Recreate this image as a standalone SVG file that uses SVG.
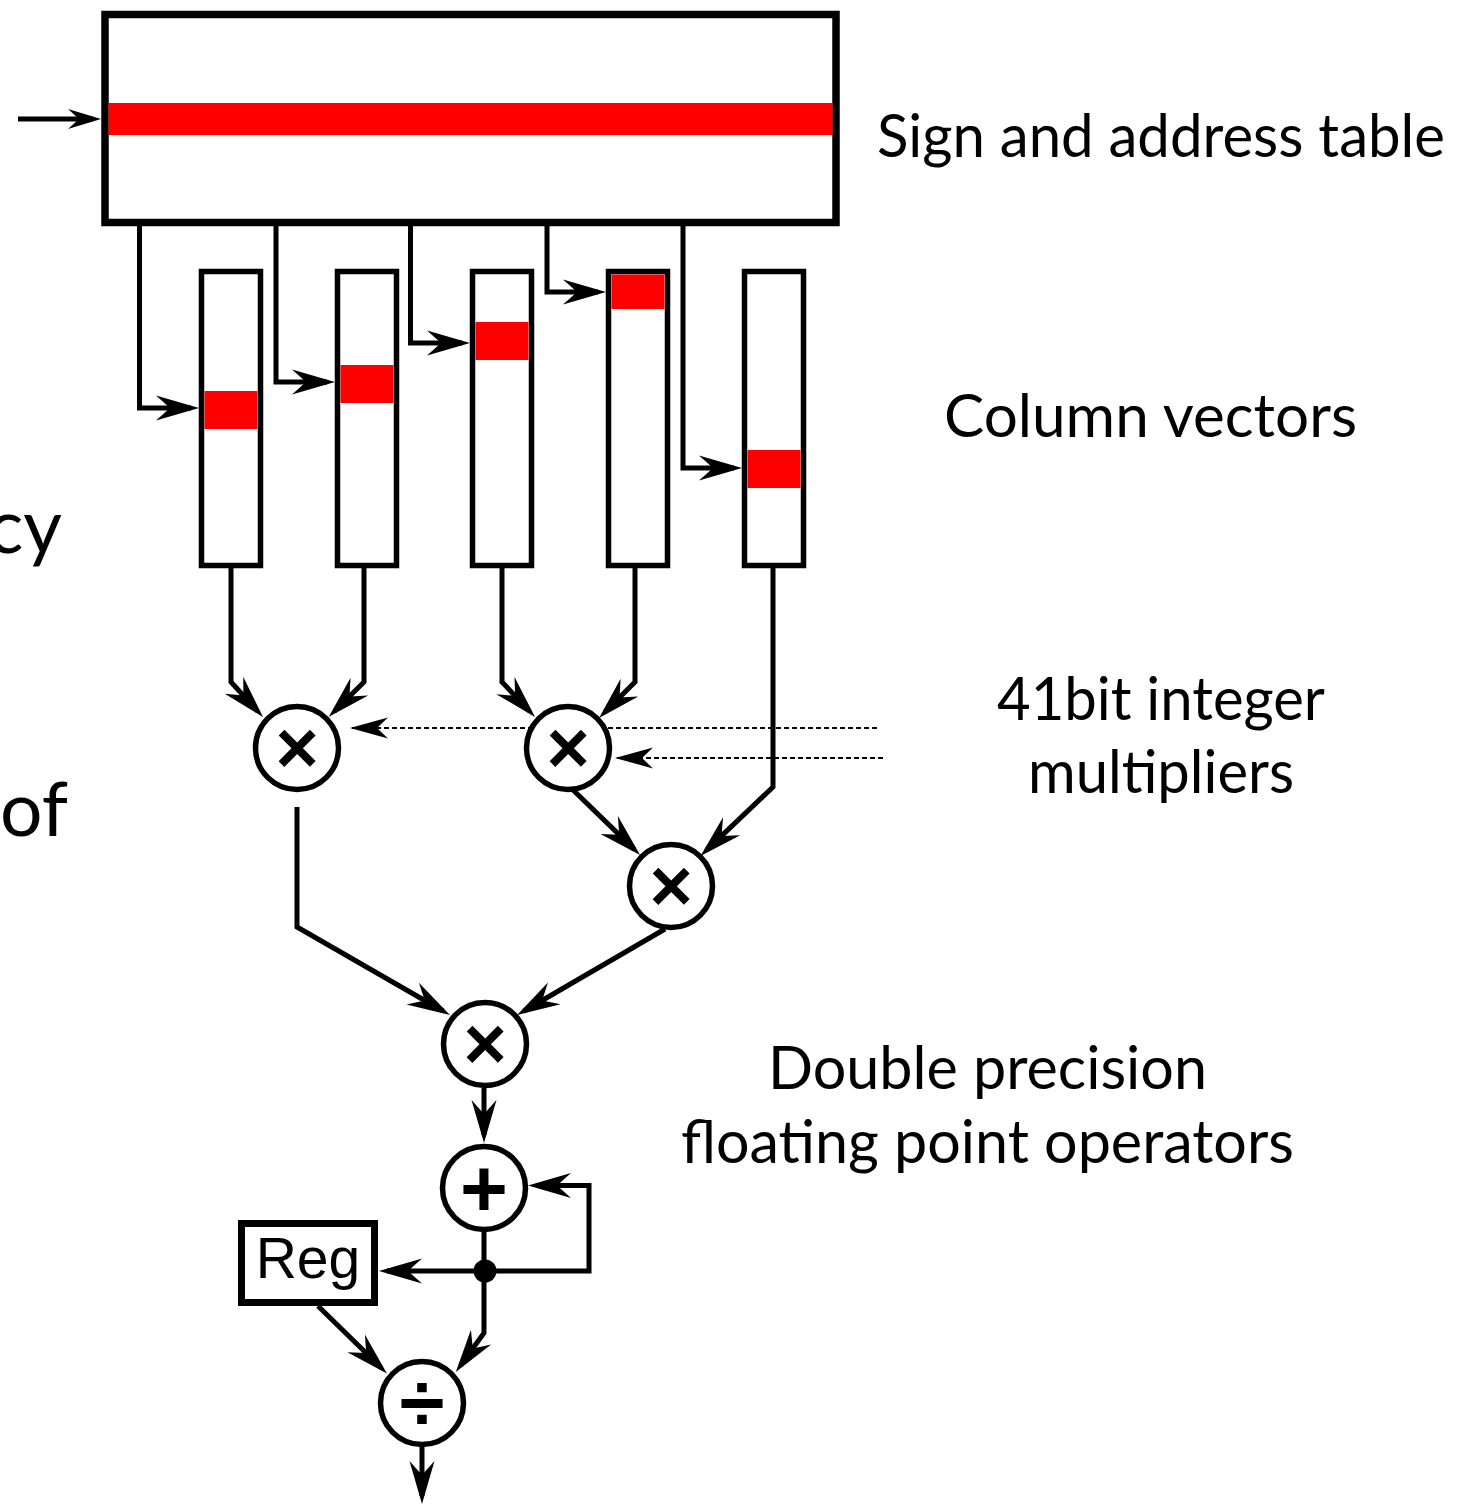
<svg xmlns="http://www.w3.org/2000/svg" width="1463" height="1504" viewBox="0 0 1463 1504">
<style>
.box{fill:#fff;stroke:#000;stroke-width:7.5}
.col{fill:#fff;stroke:#000;stroke-width:5.5}
.red{fill:#ff0000}
.op{fill:#fff;stroke:#000;stroke-width:5.5}
.sym{font-family:"Liberation Sans",Arial,sans-serif;text-anchor:middle;fill:#000}
.ln{fill:none;stroke:#000;stroke-width:5;stroke-linejoin:miter}
.dash{fill:none;stroke:#000;stroke-width:2;stroke-dasharray:5 3}
.lbl{font-family:Lato,"Open Sans",sans-serif;font-size:60px;fill:#000}
</style>
<defs>
<marker id="ah" markerUnits="userSpaceOnUse" viewBox="-38 -14 48 28" refX="0" refY="0" markerWidth="48" markerHeight="28" orient="auto">
<path d="M8,0 L-35,-12.5 L-21,0 L-35,12.5 Z" fill="#000"/>
</marker>
<marker id="ahs" markerUnits="userSpaceOnUse" viewBox="-30 -12 40 24" refX="0" refY="0" markerWidth="40" markerHeight="24" orient="auto">
<path d="M8,0 L-25,-10 L-14,0 L-25,10 Z" fill="#000"/>
</marker>
<marker id="ahd" markerUnits="userSpaceOnUse" viewBox="-38 -12 42 24" refX="0" refY="0" markerWidth="42" markerHeight="24" orient="auto">
<path d="M2,0 L-36,-10.5 L-25,0 L-36,10.5 Z" fill="#000"/>
</marker>
</defs>

<g id="connectors">
<path class="ln" d="M18,119 H93" marker-end="url(#ahs)"/>
<path class="ln" d="M139.5,226 V408 H191" marker-end="url(#ah)"/>
<path class="ln" d="M276,226 V382 H327" marker-end="url(#ah)"/>
<path class="ln" d="M410.5,226 V343 H462" marker-end="url(#ah)"/>
<path class="ln" d="M547,226 V292 H598" marker-end="url(#ah)"/>
<path class="ln" d="M683,226 V468 H734" marker-end="url(#ah)"/>
<path class="dash" d="M877,728 H352" marker-end="url(#ahd)"/>
<path class="dash" d="M883,758 H617" marker-end="url(#ahd)"/>
<path class="ln" d="M231,568 V682 L257.6,711.1" marker-end="url(#ah)"/>
<path class="ln" d="M364,568 V682 L334.5,711.2" marker-end="url(#ah)"/>
<path class="ln" d="M502,568 V682 L529.5,711.1" marker-end="url(#ah)"/>
<path class="ln" d="M635,568 V682 L604.7,712.3" marker-end="url(#ah)"/>
<path class="ln" d="M773,568 V787 L706.3,850.4" marker-end="url(#ah)"/>
<path class="ln" d="M570,787 L634.3,849.4" marker-end="url(#ah)"/>
<path class="ln" d="M297,807 V927 L443,1011" marker-end="url(#ah)"/>
<path class="ln" d="M665,929 L524,1011" marker-end="url(#ah)"/>
<path class="ln" d="M484,1088 V1135" marker-end="url(#ah)"/>
<path class="ln" d="M484,1230 V1333 L460.5,1365.4" marker-end="url(#ah)"/>
<path class="ln" d="M484,1271 H387" marker-end="url(#ah)"/>
<path class="ln" d="M484,1271 H589 V1185.5 H536" marker-end="url(#ah)"/>
<path class="ln" d="M318,1306 L381.2,1367.8" marker-end="url(#ah)"/>
<path class="ln" d="M422,1445 V1496" marker-end="url(#ah)"/>
<circle cx="485" cy="1271" r="11.5" fill="#000"/>
</g>

<g id="sign-address-table">
<rect class="box" x="105" y="14.5" width="731" height="208"/>
<rect class="red" x="108.5" y="103" width="724" height="32"/>
</g>

<g id="column-1"><rect class="col" x="201.5" y="271.5" width="59" height="294"/><rect class="red" x="204.5" y="391" width="53" height="38"/></g>
<g id="column-2"><rect class="col" x="337.5" y="271.5" width="59" height="294"/><rect class="red" x="340.5" y="365" width="53" height="38"/></g>
<g id="column-3"><rect class="col" x="472.5" y="271.5" width="59" height="294"/><rect class="red" x="475.5" y="322" width="53" height="38"/></g>
<g id="column-4"><rect class="col" x="608.5" y="271.5" width="59" height="294"/><rect class="red" x="611.5" y="274.5" width="53" height="34.5"/></g>
<g id="column-5"><rect class="col" x="744.5" y="271.5" width="59" height="294"/><rect class="red" x="747.5" y="450" width="53" height="38"/></g>

<g id="mul-1"><circle class="op" cx="297" cy="748" r="41.5"/><text class="sym" x="297" y="773" font-size="74" font-weight="bold">×</text></g>
<g id="mul-2"><circle class="op" cx="568" cy="748" r="41.5"/><text class="sym" x="568" y="773" font-size="74" font-weight="bold">×</text></g>
<g id="mul-3"><circle class="op" cx="671" cy="886" r="41.5"/><text class="sym" x="671" y="911" font-size="74" font-weight="bold">×</text></g>
<g id="mul-4"><circle class="op" cx="485" cy="1044" r="41.5"/><text class="sym" x="485" y="1069" font-size="74" font-weight="bold">×</text></g>
<g id="add"><circle class="op" cx="484" cy="1188" r="41.5"/><text class="sym" x="484" y="1216" font-size="82" font-weight="bold">+</text></g>
<g id="div"><circle class="op" cx="422" cy="1403" r="41.5"/><text class="sym" x="422" y="1431" font-size="82" font-weight="bold">÷</text></g>
<g id="reg"><rect x="241.5" y="1223.5" width="133" height="79" fill="#fff" stroke="#000" stroke-width="7"/><text class="sym" x="308" y="1278" font-size="57">Reg</text></g>

<g id="labels">
<text class="lbl" x="877" y="157" textLength="568" lengthAdjust="spacingAndGlyphs">Sign and address table</text>
<text class="lbl" x="944" y="437" textLength="413" lengthAdjust="spacingAndGlyphs">Column vectors</text>
<text class="lbl" x="997" y="720" textLength="328" lengthAdjust="spacingAndGlyphs">41bit integer</text>
<text class="lbl" x="1028" y="793" textLength="266" lengthAdjust="spacingAndGlyphs">multipliers</text>
<text class="lbl" x="768" y="1089" textLength="439" lengthAdjust="spacingAndGlyphs">Double precision</text>
<text class="lbl" x="681" y="1163" textLength="613" lengthAdjust="spacingAndGlyphs">floating point operators</text>
<text class="lbl" x="62" y="553" text-anchor="end" style="font-size:75px">cy</text>
<text class="lbl" x="68" y="836" text-anchor="end" style="font-size:75px">of</text>
</g>
</svg>
